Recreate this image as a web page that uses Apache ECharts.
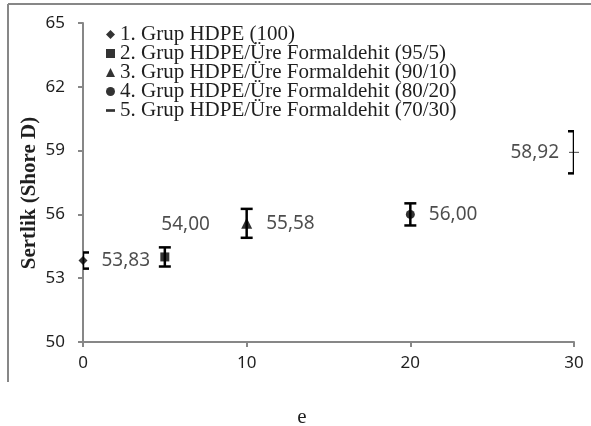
<!DOCTYPE html>
<html>
<head>
<meta charset="utf-8">
<script src="https://cdn.jsdelivr.net/npm/echarts@6/dist/echarts.min.js"></script>
<style>
  html, body { margin: 0; padding: 0; background: #fff; }
  #chart { width: 591px; height: 426px; }
</style>
</head>
<body>
<div id="chart"></div>
<script>
// Shore D hardness of HDPE / urea-formaldehyde blends
const groupNames = [
  '1. Grup HDPE (100)',
  '2. Grup HDPE/Üre Formaldehit (95/5)',
  '3. Grup HDPE/Üre Formaldehit (90/10)',
  '4. Grup HDPE/Üre Formaldehit (80/20)',
  '5. Grup HDPE/Üre Formaldehit (70/30)'
];
const ureaContent = [0, 5, 10, 20, 30];
const hardness = [53.83, 54.00, 55.58, 56.00, 58.92];
const hardnessErr = [0.38, 0.45, 0.68, 0.52, 0.99];
const groupSymbols = ['diamond', 'rect', 'triangle', 'circle', 'path://M0,0H10V3H0Z'];
const yAxisTitle = 'Sertlik (Shore D)';
const panelLetter = 'e';

const AXIS_GREY = '#878787';
const TEXT = '#1f1f1f';
const SERIF = '"Liberation Serif", "Times New Roman", serif';
const SANS = '"Noto Sans", "Open Sans", sans-serif';

const symbolSizes = [9, 9, 11, 9, [10, 3]];
// label placement per group
const labelPlacement = [
  { position: 'right', distance: 14 },
  { position: [1, -37], distance: 0 },
  { position: 'right', distance: 14 },
  { position: 'right', distance: 14 },
  { position: 'left', distance: 10 }
];

const fmt = v => v.toFixed(2).replace('.', ',');

const scatterSeries = groupNames.map((name, i) => ({
  name: name,
  type: 'scatter',
  symbol: groupSymbols[i],
  symbolSize: symbolSizes[i],
  symbolKeepAspect: true,
  itemStyle: { color: '#000' },
  z: 3,
  clip: false,
  label: {
    show: true,
    position: labelPlacement[i].position,
    distance: labelPlacement[i].distance,
    formatter: p => fmt(p.value[1]),
    fontFamily: SANS,
    fontSize: 19,
    color: TEXT
  },
  data: [[ureaContent[i], hardness[i]]]
}));

const errorSeries = {
  type: 'custom',
  name: 'err',
  clip: true,
  z: 2,
  renderItem: function (params, api) {
    const x = api.value(0), y = api.value(1), e = api.value(2);
    const top = api.coord([x, y + e]);
    const bot = api.coord([x, y - e]);
    const hw = 6;
    const st = { stroke: '#000', lineWidth: 2.5 };
    return {
      type: 'group',
      children: [
        { type: 'line', shape: { x1: top[0], y1: top[1], x2: bot[0], y2: bot[1] }, style: st },
        { type: 'line', shape: { x1: top[0] - hw, y1: top[1], x2: top[0] + hw, y2: top[1] }, style: st },
        { type: 'line', shape: { x1: bot[0] - hw, y1: bot[1], x2: bot[0] + hw, y2: bot[1] }, style: st }
      ]
    };
  },
  data: ureaContent.map((x, i) => [x, hardness[i], hardnessErr[i]])
};

const chart = echarts.init(document.getElementById('chart'), null, { renderer: 'canvas' });
chart.setOption({
  animation: false,
  backgroundColor: '#fff',
  grid: { left: 83, right: 17, top: 23, bottom: 84, containLabel: false },
  legend: {
    data: groupNames.map((n, i) => ({ name: n, icon: groupSymbols[i] })),
    orient: 'vertical',
    left: 101,
    top: 19,
    itemWidth: 9,
    itemHeight: 9,
    itemGap: -2,
    selectedMode: false,
    textStyle: { fontFamily: SERIF, fontSize: 21, color: TEXT }
  },
  xAxis: {
    type: 'value',
    min: 0, max: 30, interval: 10,
    axisLine: { show: true, lineStyle: { color: AXIS_GREY, width: 2 } },
    axisTick: { show: true, length: 5, lineStyle: { color: AXIS_GREY, width: 2 } },
    splitLine: { show: false },
    axisLabel: { fontFamily: SANS, fontSize: 17, color: TEXT, margin: 13 }
  },
  yAxis: {
    type: 'value',
    min: 50, max: 65, interval: 3,
    axisLine: { show: true, lineStyle: { color: AXIS_GREY, width: 2 } },
    axisTick: { show: true, length: 5, lineStyle: { color: AXIS_GREY, width: 2 } },
    splitLine: { show: false },
    axisLabel: { fontFamily: SANS, fontSize: 17, color: TEXT, margin: 18 }
  },
  graphic: [
    { type: 'line', shape: { x1: 8, y1: 4, x2: 591, y2: 4 }, style: { stroke: AXIS_GREY, lineWidth: 2 } },
    { type: 'line', shape: { x1: 8, y1: 4, x2: 8, y2: 382 }, style: { stroke: AXIS_GREY, lineWidth: 2 } },
    {
      type: 'text', x: 30, y: 193, rotation: Math.PI / 2,
      style: { text: yAxisTitle, font: 'bold 21px ' + SERIF, fill: TEXT, textAlign: 'center', textVerticalAlign: 'middle' }
    },
    {
      type: 'text', x: 302, y: 417,
      style: { text: panelLetter, font: '21px ' + SERIF, fill: TEXT, textAlign: 'center', textVerticalAlign: 'middle' }
    }
  ],
  series: [errorSeries].concat(scatterSeries)
});
</script>
</body>
</html>
